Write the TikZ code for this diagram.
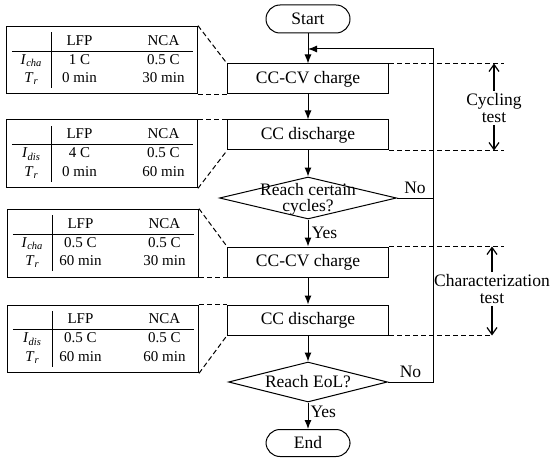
\documentclass[tikz,border=0pt]{standalone}
\usepackage{fontspec}
\setmainfont{Liberation Serif}
\usepackage{array}
\usepackage{tikz}
\usetikzlibrary{positioning,shapes.geometric,arrows.meta}

\renewcommand{\arraystretch}{1.05}
\setlength{\arrayrulewidth}{0.7pt}
\newcommand{\Icha}{\textit{I}\textsubscript{\textit{cha}}}
\newcommand{\Idis}{\textit{I}\textsubscript{\textit{dis}}}
\newcommand{\condtab}[5]{\begin{tabular}{@{}w{c}{39pt}@{}|@{}w{c}{56pt}@{\hspace{27pt}}w{c}{58pt}@{}}
 & LFP & NCA\\ \hline
 #1 & #2 & #3\\
 \textit{T}\textsubscript{\textit{r}} & #4 & #5
\end{tabular}}

\begin{document}
\begin{tikzpicture}[x=1pt,y=-1pt,font=\fontsize{17.5}{20}\selectfont]
\tikzset{process/.style={draw,line width=1pt,minimum width=161pt,minimum height=30pt,inner sep=0pt}}
\tikzset{decision/.style={draw,line width=1pt,diamond,inner sep=0pt}}
\tikzset{terminal/.style={draw,line width=1pt,rounded corners=14pt,minimum width=84pt,minimum height=28pt,inner sep=0pt}}
\tikzset{flow/.style={line width=1pt,-{Latex[length=9pt,width=7pt]}}}
\tikzset{side/.style={line width=1.2pt,-{Straight Barb[length=7pt,width=10pt]}}}
\tikzset{guide/.style={line width=1pt,dash pattern=on 5pt off 3pt}}
\tikzset{tabbox/.style={draw,line width=1pt,inner xsep=5pt,inner ysep=6pt,font=\fontsize{15}{17.5}\selectfont}}
\tikzset{twoline/.style={align=center,inner sep=2pt,font=\fontsize{17.5}{17}\selectfont}}
\useasboundingbox (0,0) rectangle (551,465);

% flow chart
\node[terminal] (start) at (308,19) {Start};
\node[process] (chg1) at (308,79) {CC-CV charge};
\node[process] (dis1) at (308,135) {CC discharge};
\node[decision,minimum width=177pt,minimum height=42pt] (chk1) at (308,198) {};
\node[twoline,inner sep=0pt,font=\fontsize{17.5}{16}\selectfont] (chk1txt) at (308,199) {Reach certain\\cycles?};
\node[process] (chg2) at (308,262) {CC-CV charge};
\node[process] (dis2) at (308,320) {CC discharge};
\node[decision,minimum width=159pt,minimum height=40pt] (chk2) at (308,382) {};
\node (chk2txt) at (308,382) {Reach EoL?};
\node[terminal,minimum height=27pt] (stop) at (308,443) {End};
\coordinate (join) at (308,49);
\coordinate (loopx) at (433,49);

\draw[flow] (start) -- (chg1);
\draw[flow] (chg1) -- (dis1);
\draw[flow] (dis1) -- (chk1);
\draw[flow] (chk1) -- node[right]{Yes} (chg2);
\draw[flow] (chg2) -- (dis2);
\draw[flow] (dis2) -- (chk2);
\draw[flow] (chk2) -- node[right,pos=0.35,inner sep=2pt]{Yes} (stop);
\draw[line width=1pt] (chk1.east) -- node[above]{No} (chk1.east -| loopx);
\draw[flow] (chk2.east) -- node[above]{No} (chk2.east -| loopx) |- (join);

% test conditions
\node[tabbox,left=29pt of chg1.south west,anchor=south east] (tab1) {\condtab{\Icha}{1 C}{0.5 C}{0 min}{30 min}};
\node[tabbox,left=29pt of dis1.north west,anchor=north east] (tab2) {\condtab{\Idis}{4 C}{0.5 C}{0 min}{60 min}};
\node[tabbox,left=28pt of chg2.south west,anchor=south east] (tab3) {\condtab{\Icha}{0.5 C}{0.5 C}{60 min}{30 min}};
\node[tabbox,left=28pt of dis2.north west,anchor=north east] (tab4) {\condtab{\Idis}{0.5 C}{0.5 C}{60 min}{60 min}};
\draw[guide] (tab1.north east) -- (chg1.north west);
\draw[guide] (tab1.south east) -- (chg1.south west);
\draw[guide] (tab2.north east) -- (dis1.north west);
\draw[guide] (tab2.south east) -- (dis1.south west);
\draw[guide] (tab3.north east) -- (chg2.north west);
\draw[guide] (tab3.south east) -- (chg2.south west);
\draw[guide] (tab4.north east) -- (dis2.north west);
\draw[guide] (tab4.south east) -- (dis2.south west);

% test spans
\draw[guide] (chg1.north east) -- ++(115,0);
\draw[guide] (dis1.south east) -- ++(115,0);
\draw[guide] (chg2.north east) -- ++(115,0);
\draw[guide] (dis2.south east) -- ++(102,0);
\node[twoline] (cyctest) at (494,108) {Cycling\\test};
\draw[side] (cyctest.north) -- (cyctest.north |- chg1.north);
\draw[side] (cyctest.south) -- (cyctest.south |- dis1.south);
\node[twoline] (chartest) at (492,289) {Characterization\\test};
\draw[side] (chartest.north) -- (chartest.north |- chg2.north);
\draw[side] (chartest.south) -- (chartest.south |- dis2.south);
\end{tikzpicture}
\end{document}
